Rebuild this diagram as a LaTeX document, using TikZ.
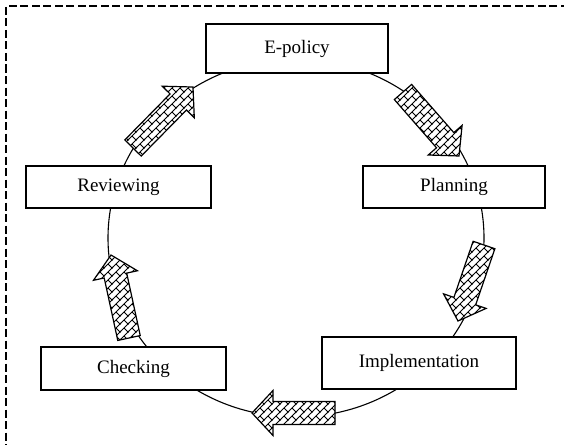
\documentclass[tikz,border=0pt]{standalone}
\usepackage{fontspec}
\setmainfont{Liberation Serif}
\usetikzlibrary{calc,patterns}

% diagonal brick fill, fixed to the page
\pgfdeclarepatternformonly{diagbricks}{\pgfqpoint{-1pt}{-1pt}}{\pgfqpoint{9pt}{9pt}}{\pgfqpoint{8pt}{8pt}}{%
  \pgfsetlinewidth{0.8pt}%
  \pgfpathmoveto{\pgfqpoint{-1pt}{-1pt}}\pgfpathlineto{\pgfqpoint{9pt}{9pt}}%
  \pgfpathmoveto{\pgfqpoint{8.4pt}{-0.4pt}}\pgfpathlineto{\pgfqpoint{4pt}{4pt}}%
  \pgfusepath{stroke}}

\tikzset{
  stagebox/.style={draw, line width=1.5pt, fill=white, inner sep=0pt,
    font=\fontsize{19}{22}\selectfont},
  ring/.style={line width=1.1pt},
  frameline/.style={line width=1.8pt, dash pattern=on 8pt off 3.5pt},
  brickarrowline/.style={line width=1.2pt, line join=miter,
    preaction={fill=white}, pattern=diagbricks},
}

% block arrow with brick fill from tail #1 to tip #2
\newcommand\brickarrow[2]{%
  \path let \p1=($(#2)-(#1)$) in
    \pgfextra{\pgfmathsetmacro\bkang{atan2(\y1,\x1)}%
      \pgfmathsetmacro\bklen{veclen(\x1,\y1)}%
      \global\let\bkang\bkang\global\let\bklen\bklen};
  \begin{scope}[shift={(#1)}, rotate=\bkang, x=1pt, y=1pt]
    \draw[brickarrowline] (0,-11.5) -- ({\bklen-21},-11.5) -- ({\bklen-21},-22.5)
      -- (\bklen,0) -- ({\bklen-21},22.5) -- ({\bklen-21},11.5) -- (0,11.5) -- cycle;
  \end{scope}}

\begin{document}
\begin{tikzpicture}[x=1pt, y=-1pt]
  \useasboundingbox (0,0) rectangle (564,444);
  \clip (0,0) rectangle (564,444);

  % dashed outer frame
  \draw[frameline] (580,6) -- (6,6) -- (6,460);

  % cycle ring
  \coordinate (c) at (296,238);
  \draw[ring] (c) ellipse [x radius=188pt, y radius=179pt];

  % stages
  \node[stagebox, minimum width=182pt, minimum height=49pt] (epol) at (297,48.5) {E-policy};
  \node[stagebox, minimum width=182pt, minimum height=42pt] (plan) at (454,187) {Planning};
  \node[stagebox, minimum width=194pt, minimum height=52pt] (impl) at (419,363) {Implementation};
  \node[stagebox, minimum width=185pt, minimum height=43pt] (chk) at (133.5,368.5) {Checking};
  \node[stagebox, minimum width=185pt, minimum height=42pt] (rev) at (118.5,187) {Reviewing};

  % arrow ends on the ring
  \coordinate (a1s) at (133,148);  \coordinate (a1e) at (193,87);
  \coordinate (a2s) at (403,92);   \coordinate (a2e) at (459,156);
  \coordinate (a3s) at (484,245);  \coordinate (a3e) at (458,321);
  \coordinate (a4s) at (335,413);  \coordinate (a4e) at (252,413);
  \coordinate (a5s) at (129,338);  \coordinate (a5e) at (111,255);

  \brickarrow{a1s}{a1e}
  \brickarrow{a2s}{a2e}
  \brickarrow{a3s}{a3e}
  \brickarrow{a4s}{a4e}
  \brickarrow{a5s}{a5e}
\end{tikzpicture}
\end{document}
